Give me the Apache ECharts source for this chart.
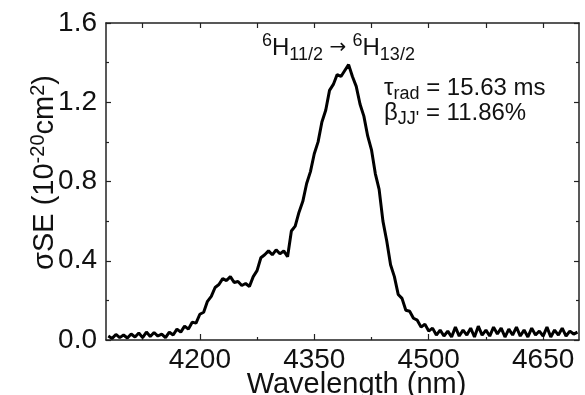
<!DOCTYPE html>
<html>
<head>
<meta charset="utf-8">
<script src="https://cdn.jsdelivr.net/npm/echarts@6/dist/echarts.min.js"></script>
<style>html,body{margin:0;padding:0;background:#fff;}#c{width:585px;height:395px;}</style>
</head>
<body>
<div id="c"></div>
<script>
const wavelengths = [4080,4085,4090,4095,4100,4105,4110,4115,4120,4125,4130,4135,4140,4145,4150,4155,4160,4165,4170,4175,4180,4185,4190,4195,4200,4205,4210,4215,4220,4225,4230,4235,4240,4245,4250,4255,4260,4265,4270,4275,4280,4285,4290,4295,4300,4305,4310,4315,4320,4325,4330,4335,4340,4345,4350,4355,4360,4365,4370,4375,4380,4385,4390,4395,4400,4405,4410,4415,4420,4425,4430,4435,4440,4445,4450,4455,4460,4465,4470,4475,4480,4485,4490,4495,4500,4505,4510,4515,4520,4525,4530,4535,4540,4545,4550,4555,4560,4565,4570,4575,4580,4585,4590,4595,4600,4605,4610,4615,4620,4625,4630,4635,4640,4645,4650,4655,4660,4665,4670,4675,4680,4685,4690,4695];
const sigmaSE = [0.02,0.008,0.028,0.012,0.025,0.01,0.03,0.015,0.035,0.012,0.04,0.018,0.038,0.02,0.03,0.012,0.04,0.025,0.055,0.04,0.07,0.055,0.09,0.085,0.13,0.14,0.195,0.22,0.265,0.28,0.31,0.30,0.32,0.29,0.295,0.275,0.285,0.27,0.32,0.35,0.415,0.43,0.45,0.43,0.455,0.435,0.45,0.42,0.55,0.575,0.645,0.70,0.79,0.85,0.94,1.00,1.10,1.16,1.26,1.29,1.34,1.33,1.36,1.39,1.33,1.28,1.19,1.13,1.03,0.96,0.84,0.76,0.60,0.50,0.38,0.32,0.23,0.21,0.15,0.145,0.11,0.10,0.065,0.08,0.045,0.06,0.025,0.05,0.02,0.045,0.015,0.065,0.02,0.05,0.025,0.06,0.015,0.07,0.025,0.05,0.02,0.065,0.03,0.06,0.015,0.055,0.025,0.065,0.02,0.05,0.015,0.06,0.025,0.045,0.02,0.065,0.015,0.05,0.025,0.06,0.02,0.045,0.03,0.04];
const xLabelValues = [4200,4350,4500,4650];
const xMinorTickValues = [4125,4275,4425,4575];
const xTopTickValues = [4125,4200,4275,4350,4425,4500,4575,4650];
const yTicks = ['0.0','0.4','0.8','1.2','1.6'];

const FONT = "'Liberation Sans', Arial, sans-serif";
const axisColor = '#222';
const chart = echarts.init(document.getElementById('c'), null, {renderer: 'canvas'});
const data = wavelengths.map((w, i) => [w, sigmaSE[i]]);

chart.setOption({
  animation: false,
  backgroundColor: '#fff',
  grid: {left: 106, right: 6, top: 23, bottom: 55, containLabel: false, outerBoundsMode: 'none'},
  xAxis: [
    {
      type: 'value', position: 'bottom', min: 4077, max: 4697,
      axisLine: {show: true, lineStyle: {color: axisColor, width: 1.5}},
      axisTick: {show: true, inside: true, length: 6, customValues: xLabelValues, lineStyle: {color: axisColor, width: 1.2}},
      axisLabel: {customValues: xLabelValues, fontFamily: FONT, fontSize: 28, color: '#111', margin: 6,
        formatter: (v) => String(v)},
      splitLine: {show: false},
      name: 'Wavelength (nm)', nameLocation: 'middle', nameGap: 30, nameMoveOverlap: false,
      nameTextStyle: {fontFamily: FONT, fontSize: 29, color: '#111', padding: [0, 0, 0, 28], verticalAlign: 'top'}
    },
    {
      type: 'value', position: 'bottom', offset: 0, min: 4077, max: 4697, gridIndex: 0,
      axisLine: {show: false},
      axisTick: {show: true, inside: true, length: 3, customValues: xMinorTickValues, lineStyle: {color: axisColor, width: 1.2}},
      axisLabel: {show: false}, splitLine: {show: false}
    },
    {
      type: 'value', position: 'top', min: 4077, max: 4697, gridIndex: 0,
      axisLine: {show: true, lineStyle: {color: axisColor, width: 1.5}},
      axisTick: {show: true, inside: true, length: 5, customValues: xTopTickValues, lineStyle: {color: axisColor, width: 1.2}},
      axisLabel: {show: false}, splitLine: {show: false}
    }
  ],
  yAxis: [
    {
      type: 'value', position: 'left', min: 0, max: 1.6, interval: 0.4,
      axisLine: {show: true, lineStyle: {color: axisColor, width: 1.5}},
      axisTick: {show: true, inside: true, length: 5, lineStyle: {color: axisColor, width: 1.2}},
      minorTick: {show: true, splitNumber: 2, length: 3, lineStyle: {color: axisColor, width: 1.2}},
      axisLabel: {fontFamily: FONT, fontSize: 28, color: '#111', margin: 9,
        formatter: (v) => yTicks[Math.round(v / 0.4)] || v.toFixed(1)},
      splitLine: {show: false},
      name: '{m|σSE (10}{sup|-20}{m|cm}{sup|2}{m|)}',
      nameLocation: 'middle', nameGap: 44, nameRotate: 90, nameMoveOverlap: false,
      nameTextStyle: {
        fontFamily: FONT, fontSize: 29, color: '#111', padding: [0, 0, 0, 18],
        rich: {
          m: {fontFamily: FONT, fontSize: 29, color: '#111', lineHeight: 34, verticalAlign: 'middle'},
          sup: {fontFamily: FONT, fontSize: 20, color: '#111', lineHeight: 18, verticalAlign: 'top'}
        }
      }
    },
    {
      type: 'value', position: 'right', min: 0, max: 1.6, interval: 0.4,
      axisLine: {show: true, lineStyle: {color: axisColor, width: 1.5}},
      axisTick: {show: true, inside: true, length: 5, lineStyle: {color: axisColor, width: 1.2}},
      minorTick: {show: true, splitNumber: 2, length: 3, lineStyle: {color: axisColor, width: 1.2}},
      axisLabel: {show: false}, splitLine: {show: false}
    }
  ],
  series: [{
    type: 'line', xAxisIndex: 0, yAxisIndex: 0, data: data,
    showSymbol: false, symbol: 'none',
    lineStyle: {color: '#000', width: 3}, z: 3
  }],
  graphic: [
    {
      type: 'text', left: 262, top: 32,
      style: {
        text: '{sup|6}{m|H}{sub|11/2}{a| → }{sup|6}{m|H}{sub|13/2}',
        fill: '#111',
        rich: {
          m: {fontFamily: FONT, fontSize: 24, fill: '#111', lineHeight: 32, verticalAlign: 'middle'},
          a: {fontFamily: "'DejaVu Sans', sans-serif", fontSize: 20, fill: '#111', lineHeight: 32, verticalAlign: 'middle'},
          sup: {fontFamily: FONT, fontSize: 18, fill: '#111', lineHeight: 18, verticalAlign: 'top'},
          sub: {fontFamily: FONT, fontSize: 18, fill: '#111', lineHeight: 18, verticalAlign: 'bottom'}
        }
      }
    },
    {
      type: 'text', left: 384, top: 76,
      style: {
        text: '{m|τ}{sub|rad}{m| = 15.63 ms}',
        fill: '#111',
        rich: {
          m: {fontFamily: FONT, fontSize: 24, fill: '#111', lineHeight: 30, verticalAlign: 'middle'},
          sub: {fontFamily: FONT, fontSize: 18, fill: '#111', lineHeight: 18, verticalAlign: 'bottom'}
        }
      }
    },
    {
      type: 'text', left: 384, top: 101,
      style: {
        text: "{m|β}{sub|JJ'}{m| = 11.86%}",
        fill: '#111',
        rich: {
          m: {fontFamily: FONT, fontSize: 24, fill: '#111', lineHeight: 30, verticalAlign: 'middle'},
          sub: {fontFamily: FONT, fontSize: 18, fill: '#111', lineHeight: 18, verticalAlign: 'bottom'}
        }
      }
    }
  ]
});
</script>
</body>
</html>
